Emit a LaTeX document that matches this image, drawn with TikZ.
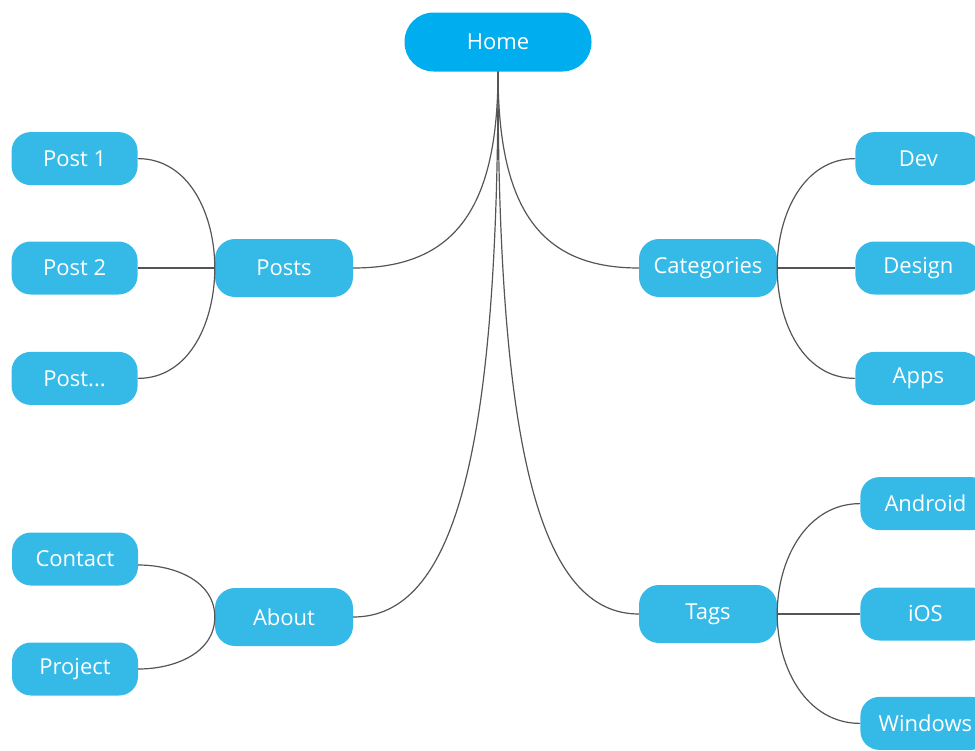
\documentclass[tikz,border=0pt]{standalone}
\usepackage{fontspec}
\setmainfont{Open Sans}
\usetikzlibrary{positioning,calc}
\definecolor{rootblue}{HTML}{00ADEF}
\definecolor{nodeblue}{HTML}{35BAE8}
\definecolor{linkgray}{HTML}{555555}
\begin{document}
\begin{tikzpicture}[
  x=1pt, y=-1pt,
  root/.style={rectangle, rounded corners=29pt, fill=rootblue, minimum width=187pt, minimum height=59pt, text=white, font=\fontsize{22}{26}\selectfont},
  topic/.style={rectangle, rounded corners=20pt, fill=nodeblue, minimum width=138pt, minimum height=58pt, text=white, font=\fontsize{22}{26}\selectfont},
  leaf/.style={rectangle, rounded corners=19pt, fill=nodeblue, minimum width=126pt, minimum height=53pt, text=white, font=\fontsize{22}{26}\selectfont},
  link/.style={draw=linkgray, line width=1.2pt},
  branch/.style={link, to path={.. controls ($(\tikztostart)!0.7!(\tikztostart |- \tikztotarget)$) and ($(\tikztotarget)!0.7!(\tikztostart |- \tikztotarget)$) .. (\tikztotarget)}},
]
  \useasboundingbox (0,0) rectangle (975,750);
  \clip (0,0) rectangle (975,750);

  \node[root] (home) at (498,42) {Home};
  \node[topic] (posts) at (284,268) {Posts};
  \node[topic] (about) at (284,617) {About};
  \node[topic] (categories) at (708,268) {Categories};
  \node[topic] (tags) at (708,614) {Tags};

  \node[leaf, left=77pt of posts] (post2) {Post 2};
  \node[leaf, above=56pt of post2] (post1) {Post 1};
  \node[leaf, below=57pt of post2] (postn) {Post...};
  \node[leaf] (contact) at (75,559) {Contact};
  \node[leaf] (project) at (75,669) {Project};

  \node[leaf, right=78pt of categories] (design) {Design};
  \node[leaf, above=56pt of design] (dev) {Dev};
  \node[leaf, below=57pt of design] (apps) {Apps};
  \node[leaf, minimum width=130pt, right=83pt of tags] (ios) {iOS};
  \node[leaf, minimum width=130pt, above=57pt of ios] (android) {Android};
  \node[leaf, minimum width=130pt, below=56pt of ios] (windows) {Windows};

  \draw[branch] (home.south) to (posts.east);
  \draw[branch] (home.south) to (about.east);
  \draw[branch] (home.south) to (categories.west);
  \draw[branch] (home.south) to (tags.west);

  \draw[link] (posts.west) to[out=90, in=0] (post1.east);
  \draw[link] (posts.west) -- (post2.east);
  \draw[link] (posts.west) to[out=-90, in=0] (postn.east);
  \draw[link] (about.west) to[out=90, in=0] ([yshift=-6pt]contact.east);
  \draw[link] (about.west) to[out=-90, in=0] (project.east);

  \draw[link] (categories.east) to[out=90, in=180] (dev.west);
  \draw[link] (categories.east) -- (design.west);
  \draw[link] (categories.east) to[out=-90, in=180] (apps.west);
  \draw[link] (tags.east) to[out=90, in=180] (android.west);
  \draw[link] (tags.east) -- (ios.west);
  \draw[link] (tags.east) to[out=-90, in=180] (windows.west);
\end{tikzpicture}
\end{document}
